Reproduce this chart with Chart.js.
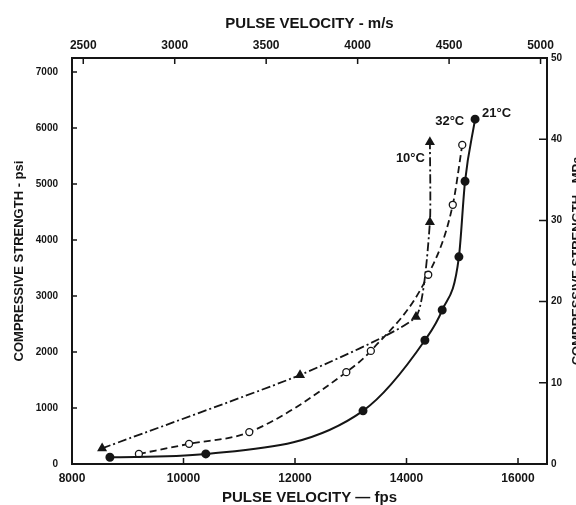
<!DOCTYPE html>
<html>
<head>
<meta charset="utf-8">
<script src="https://cdn.jsdelivr.net/npm/chart.js@4"></script>
<style>
  html, body { margin: 0; padding: 0; background: #fff; overflow: hidden; }
  #wrap { width: 576px; height: 505px; }
</style>
</head>
<body>
<div id="wrap"><canvas id="chart" width="576" height="505"></canvas></div>
<script>
// valores: velocidade de pulso (fps) x resistencia a compressao (psi)
const fps21 = [8680, 10400, 13220, 14330, 14640, 14940, 15050, 15230];
const psi21 = [120, 180, 950, 2210, 2750, 3700, 5050, 6160];

const fps32 = [9200, 10100, 11180, 12920, 13360, 14390, 14830, 15000];
const psi32 = [180, 360, 570, 1640, 2020, 3380, 4630, 5700];

const fps10 = [8540, 12090, 14170, 14420, 14420];
const psi10 = [280, 1590, 2630, 4320, 5750];

const seriesLabels = ['21°C', '32°C', '10°C'];

// rótulos dos eixos
const fpsTicks = [8000, 10000, 12000, 14000, 16000];
const mpsTicks = [2500, 3000, 3500, 4000, 4500, 5000];
const psiTicks = [0, 1000, 2000, 3000, 4000, 5000, 6000, 7000];
const mpaTicks = [0, 10, 20, 30, 40, 50];

// limites e conversões
const FPS_MIN = 8000;
const FPS_MAX = 16520;
const FT_TO_M = 0.3048;
const MPA_MAX = 50;
const PSI_PER_MPA = 145.038;

const ink = '#151515';
const font = 'Liberation Sans, Arial, sans-serif';

function toPoints(xs, ys) {
    return xs.map((x, i) => ({ x: x, y: ys[i] }));
}

// fixa o tamanho de cada eixo para posicionar a área do gráfico
function fixSize(size) {
    return function (scale) {
        if (scale.isHorizontal()) scale.height = size;
        else scale.width = size;
    };
}

function setTicks(list) {
    return function (scale) {
        scale.ticks = list.map(v => ({ value: v }));
    };
}

// sem separador de milhar
function plain(v) {
    return String(v);
}

// marcas de escala voltadas para dentro
const inwardTicks = {
    id: 'inwardTicks',
    afterDatasetsDraw(chart) {
        const { ctx, chartArea: a, scales } = chart;
        ctx.save();
        ctx.strokeStyle = ink;
        ctx.lineWidth = 1.5;
        ctx.beginPath();
        scales.x.ticks.forEach(t => {
            const p = scales.x.getPixelForValue(t.value);
            ctx.moveTo(p, a.bottom); ctx.lineTo(p, a.bottom - 6);
        });
        scales.x2.ticks.forEach(t => {
            const p = scales.x2.getPixelForValue(t.value);
            ctx.moveTo(p, a.top); ctx.lineTo(p, a.top + 6);
        });
        scales.y.ticks.forEach(t => {
            const p = scales.y.getPixelForValue(t.value);
            ctx.moveTo(a.left, p); ctx.lineTo(a.left + 5, p);
        });
        scales.y2.ticks.forEach(t => {
            const p = scales.y2.getPixelForValue(t.value);
            ctx.moveTo(a.right, p); ctx.lineTo(a.right - 8, p);
        });
        ctx.stroke();
        ctx.restore();
    }
};

// rótulos de temperatura junto ao último ponto de cada curva
const labelStyle = [
    { dx: 7, dy: -6, align: 'left' },
    { dx: 2, dy: -23, align: 'right' },
    { dx: -5, dy: 16, align: 'right' }
];

const curveLabels = {
    id: 'curveLabels',
    afterDatasetsDraw(chart) {
        const ctx = chart.ctx;
        ctx.save();
        ctx.fillStyle = ink;
        ctx.font = 'bold 13px ' + font;
        ctx.textBaseline = 'middle';
        chart.data.datasets.forEach((ds, i) => {
            const pts = chart.getDatasetMeta(i).data;
            const last = pts[pts.length - 1];
            const st = labelStyle[i];
            ctx.textAlign = st.align;
            ctx.fillText(seriesLabels[i], last.x + st.dx, last.y + st.dy);
        });
        ctx.restore();
    }
};

// título do eixo direito (lido de baixo para cima, cortado na borda)
const rightTitle = {
    id: 'rightTitle',
    afterDraw(chart) {
        const { ctx, chartArea: a } = chart;
        ctx.save();
        ctx.fillStyle = ink;
        ctx.font = 'bold 13px ' + font;
        ctx.textAlign = 'center';
        ctx.textBaseline = 'middle';
        ctx.translate(577, (a.top + a.bottom) / 2);
        ctx.rotate(-Math.PI / 2);
        ctx.fillText('COMPRESSIVE STRENGTH - MPa', 0, 0);
        ctx.restore();
    }
};

const axisBorder = { display: true, color: ink, width: 2 };

new Chart(document.getElementById('chart'), {
    type: 'line',
    data: {
        datasets: [{
            label: seriesLabels[0],
            data: toPoints(fps21, psi21),
            borderColor: ink,
            borderWidth: 2,
            backgroundColor: ink,
            pointRadius: 3.5,
            pointBackgroundColor: ink,
            pointBorderColor: ink,
            cubicInterpolationMode: 'monotone',
            xAxisID: 'x', yAxisID: 'y'
        }, {
            label: seriesLabels[1],
            data: toPoints(fps32, psi32),
            borderColor: ink,
            borderWidth: 1.8,
            borderDash: [7, 4],
            pointRadius: 3.5,
            pointBorderWidth: 1.3,
            pointBackgroundColor: '#fff',
            pointBorderColor: ink,
            cubicInterpolationMode: 'monotone',
            xAxisID: 'x', yAxisID: 'y'
        }, {
            label: seriesLabels[2],
            data: toPoints(fps10, psi10),
            borderColor: ink,
            borderWidth: 1.8,
            borderDash: [9, 3, 2, 3],
            pointStyle: 'triangle',
            pointRadius: 4,
            pointBackgroundColor: ink,
            pointBorderColor: ink,
            tension: 0.15,
            xAxisID: 'x', yAxisID: 'y'
        }]
    },
    options: {
        responsive: false,
        animation: false,
        layout: { padding: 0 },
        plugins: {
            legend: { display: false },
            tooltip: { enabled: false }
        },
        scales: {
            x: {
                type: 'linear',
                position: 'bottom',
                min: FPS_MIN,
                max: FPS_MAX,
                afterBuildTicks: setTicks(fpsTicks),
                afterFit: fixSize(41),
                border: axisBorder,
                grid: { drawOnChartArea: false, drawTicks: false },
                ticks: {
                    color: ink, padding: 7, maxRotation: 0, callback: plain,
                    font: { family: font, size: 12, weight: 'bold' }
                },
                title: {
                    display: true, text: 'PULSE VELOCITY — fps', color: ink,
                    padding: { top: 0, bottom: 0 },
                    font: { family: font, size: 15, weight: 'bold', lineHeight: 1 }
                }
            },
            x2: {
                type: 'linear',
                position: 'top',
                min: FPS_MIN * FT_TO_M,
                max: FPS_MAX * FT_TO_M,
                afterBuildTicks: setTicks(mpsTicks),
                afterFit: fixSize(58),
                border: axisBorder,
                grid: { drawOnChartArea: false, drawTicks: false },
                ticks: {
                    color: ink, padding: 5, maxRotation: 0, callback: plain,
                    font: { family: font, size: 12, weight: 'bold' }
                },
                title: {
                    display: true, text: 'PULSE VELOCITY - m/s', color: ink,
                    padding: { top: 16, bottom: 0 },
                    font: { family: font, size: 15, weight: 'bold', lineHeight: 1 }
                }
            },
            y: {
                type: 'linear',
                position: 'left',
                min: 0,
                max: MPA_MAX * PSI_PER_MPA,
                afterBuildTicks: setTicks(psiTicks),
                afterFit: fixSize(72),
                border: axisBorder,
                grid: { drawOnChartArea: false, drawTicks: false },
                ticks: {
                    color: ink, padding: 14, callback: plain,
                    font: { family: font, size: 10, weight: 'bold' }
                },
                title: {
                    display: true, text: 'COMPRESSIVE STRENGTH - psi', color: ink,
                    padding: { top: 13, bottom: 0 },
                    font: { family: font, size: 13, weight: 'bold', lineHeight: 1 }
                }
            },
            y2: {
                type: 'linear',
                position: 'right',
                min: 0,
                max: MPA_MAX,
                afterBuildTicks: setTicks(mpaTicks),
                afterFit: fixSize(29),
                border: axisBorder,
                grid: { drawOnChartArea: false, drawTicks: false },
                ticks: {
                    color: ink, padding: 4, callback: plain,
                    font: { family: font, size: 10, weight: 'bold' }
                }
            }
        }
    },
    plugins: [inwardTicks, curveLabels, rightTitle]
});
</script>
</body>
</html>
